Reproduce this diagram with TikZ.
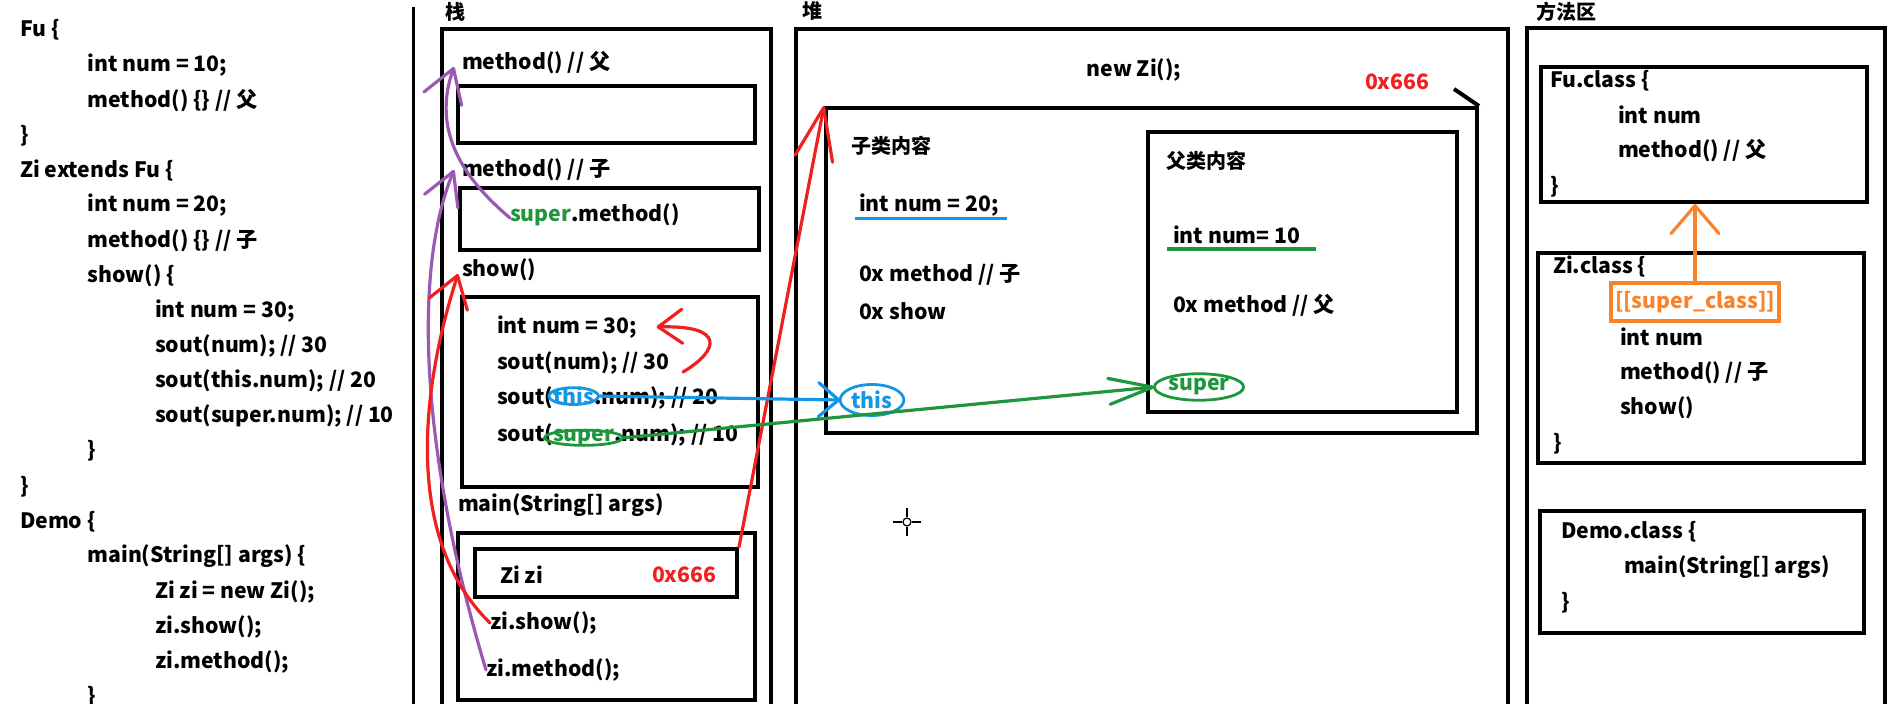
\documentclass[tikz,border=0pt]{standalone}
\usepackage{fontspec}
\setmainfont{Noto Sans CJK SC}
\usetikzlibrary{arrows.meta,shapes.geometric,fit}

\definecolor{penred}{RGB}{240,32,32}
\definecolor{penblue}{RGB}{20,150,230}
\definecolor{pengreen}{RGB}{30,150,60}
\definecolor{penpurple}{RGB}{155,90,175}
\definecolor{penorange}{RGB}{250,130,40}

\tikzset{
  code/.style={anchor=west, inner sep=0pt, outer sep=0pt, font=\fontsize{10.6}{13}\selectfont\bfseries},
  area/.style={anchor=west, inner sep=0pt, font=\fontsize{10}{12}\selectfont\bfseries},
  frame/.style={draw, line width=2pt, inner sep=0pt},
  pen/.style={line width=1.6pt, line cap=round},
  barb/.style 2 args={-{Straight Barb[length=#1, width=#2, round]}},
}

\begin{document}
\begin{tikzpicture}[x=0.5pt, y=-0.5pt]
\useasboundingbox (0,0) rectangle (1898,704);
\clip (0,0) rectangle (1898,704);

% source code
\foreach \ind/\txt [count=\i] in {0/{Fu \{}, 1/{int num = 10;}, 1/{method() \{\} // 父}, 0/{\}},
    0/{Zi extends Fu \{}, 1/{int num = 20;}, 1/{method() \{\} // 子}, 1/{show() \{},
    2/{int num = 30;}, 2/{sout(num); // 30}, 2/{sout(this.num); // 20}, 2/{sout(super.num); // 10},
    1/{\}}, 0/{\}}, 0/{Demo \{}, 1/{main(String[] args) \{}, 2/{Zi zi = new Zi();},
    2/{zi.show();}, 2/{zi.method();}, 1/{\}}}
  \node[code] (src\i) at ({20+67.5*\ind}, {30+35.1*(\i-1)}) {\txt};
\draw[line width=1.5pt] (413,7) -- (413,710);

% stack
\node[area] (stacklbl) at (445,12) {栈};
\node[frame, fit={(442,29) (771,720)}] (stack) {};
\node[code] (m1) at (462,63) {method() // 父};
\node[frame, fit={(458,86) (755,143)}] (m1box) {};
\node[code] (m2) at (462,170) {method() // 子};
\node[frame, fit={(460,188) (759,250)}] (m2box) {};
\node[code, text=pengreen] (supcall) at (510,218) {super};
\node[code, anchor=base west] (supcallb) at (supcall.base east) {.method()};
\node[code] (sh) at (462,270) {show()};
\node[frame, fit={(462,297) (758,487)}] (shbox) {};
\node[code] (s1) at (497,327) {int num = 30;};
\node[code] (s2) at (497,363) {sout(num); // 30};
\node[code] (s3) at (497,398) {sout(};
\node[code, anchor=base west, text=penblue] (thisT) at (s3.base east) {this};
\node[code, anchor=base west] (s3b) at (thisT.base east) {.num); // 20};
\node[code] (s4) at (497,435) {sout(};
\node[code, anchor=base west, text=pengreen] (superT) at (s4.base east) {super};
\node[code, anchor=base west] (s4b) at (superT.base east) {.num); // 10};
\node[code] (mn) at (458,505) {main(String[] args)};
\node[frame, fit={(458,533) (755,700)}] (mnbox) {};
\node[frame, fit={(475,549) (737,597)}] (ziref) {};
\node[code] (zizi) at (500,575) {Zi zi};
\node[code, text=penred] (addr1) at (652,575) {0x666};
\node[code] (zishow) at (490,623) {zi.show();};
\node[code] (zimeth) at (486,670) {zi.method();};
\node[ellipse, draw=penblue, line width=1.4pt, inner sep=-1.5pt, fit=(thisT)] (thisS) {};
\node[ellipse, draw=pengreen, line width=1.4pt, inner sep=-1.5pt, fit=(superT)] (superS) {};
\coordinate (curl) at (683,372);

% heap
\node[area] (heaplbl) at (802,11) {堆};
\node[frame, fit={(796,29) (1508,720)}] (heap) {};
\node[code, anchor=center] (newzi) at (1134,70) {new Zi();};
\node[code, text=penred] (addr2) at (1365,82) {0x666};
\node[frame, fit={(826,108) (1477,433)}] (obj) {};
\draw[line width=2pt] (1454,89) -- (obj.north east);
\node[area] (zilbl) at (851,146) {子类内容};
\node[code] (h1) at (859,205) {int num = 20;};
\draw[penblue, line width=1.6pt] ([xshift=-2pt, yshift=-1pt]h1.south west) -- ([xshift=4pt, yshift=-1pt]h1.south east);
\node[code] (h2) at (859,275) {0x method // 子};
\node[code] (h3) at (859,311) {0x show};
\node[code, text=penblue, ellipse, draw=penblue, line width=1.4pt, inner sep=1pt, anchor=center] (thisH) at (872,400) {this};
\node[frame, fit={(1148,132) (1457,412)}] (fu) {};
\node[area] (fulbl) at (1166,161) {父类内容};
\node[code] (h4) at (1173,235) {int num= 10};
\draw[pengreen, line width=1.6pt] ([xshift=-3pt, yshift=-2.5pt]h4.south west) -- ([xshift=8pt, yshift=-2.5pt]h4.south east);
\node[code] (h5) at (1173,305) {0x method // 父};
\node[code, text=pengreen, ellipse, draw=pengreen, line width=1.4pt, inner sep=0.5pt, anchor=center] (superH) at (1199,387) {super};

% method area
\node[area] (malbl) at (1536,12) {方法区};
\node[frame, fit={(1527,28) (1885,720)}] (ma) {};
\node[frame, fit={(1541,67) (1867,202)}] (fucls) {};
\node[code] (f1) at (1550,81) {Fu.class \{};
\node[code] (f2) at (1618,115) {int num};
\node[code] (f3) at (1618,151) {method() // 父};
\node[code] (f4) at (1550,187) {\}};
\node[frame, fit={(1538,253) (1864,463)}] (zicls) {};
\node[code] (z1) at (1553,267) {Zi.class \{};
\node[code, anchor=center, text=penorange, draw=penorange, line width=1.6pt, minimum width=84pt, minimum height=19pt] (sc) at (1695,302) {[[super\_class]]};
\node[code] (z2) at (1620,337) {int num};
\node[code] (z3) at (1620,373) {method() // 子};
\node[code] (z4) at (1620,408) {show()};
\node[code] (z5) at (1553,444) {\}};
\node[frame, fit={(1540,511) (1864,633)}] (democls) {};
\node[code] (d1) at (1561,532) {Demo.class \{};
\node[code] (d2) at (1624,567) {main(String[] args)};
\node[code] (d3) at (1561,603) {\}};

% pen strokes
\draw[pen, penpurple, barb={16pt}{20pt}] (supcall.west) .. controls (465,180) and (431,132) .. ([xshift=-4pt, yshift=-2pt]m1.west);
\draw[pen, penpurple, barb={16pt}{18pt}] (zimeth.west) .. controls (420,450) and (413,270) .. ([xshift=-4pt]m2.west);
\draw[pen, penred, barb={15pt}{20pt}] (zishow.west) .. controls (385,520) and (440,330) .. ([xshift=-2pt, yshift=-2pt]sh.west);
\draw[pen, penred, barb={26pt}{19pt}] (ziref.north east) -- (obj.north west);
\draw[pen, penred, barb={12pt}{17pt}] (curl) .. controls (720,350) and (725,325) .. ([xshift=10pt]s1.east);
\draw[pen, penblue, barb={10pt}{17pt}] (thisS.east) -- (thisH.west);
\draw[pen, pengreen, barb={22pt}{13pt}] (superS.east) -- (superH.west);
\draw[pen, penorange, barb={14pt}{24pt}] (sc.north) -- (sc.north |- fucls.south);

% cursor
\draw[line width=0.6pt] (907,522) circle [radius=2pt];
\draw[line width=0.6pt] (907,508) -- (907,517) (907,527) -- (907,536) (893,522) -- (902,522) (912,522) -- (921,522);
\end{tikzpicture}
\end{document}
